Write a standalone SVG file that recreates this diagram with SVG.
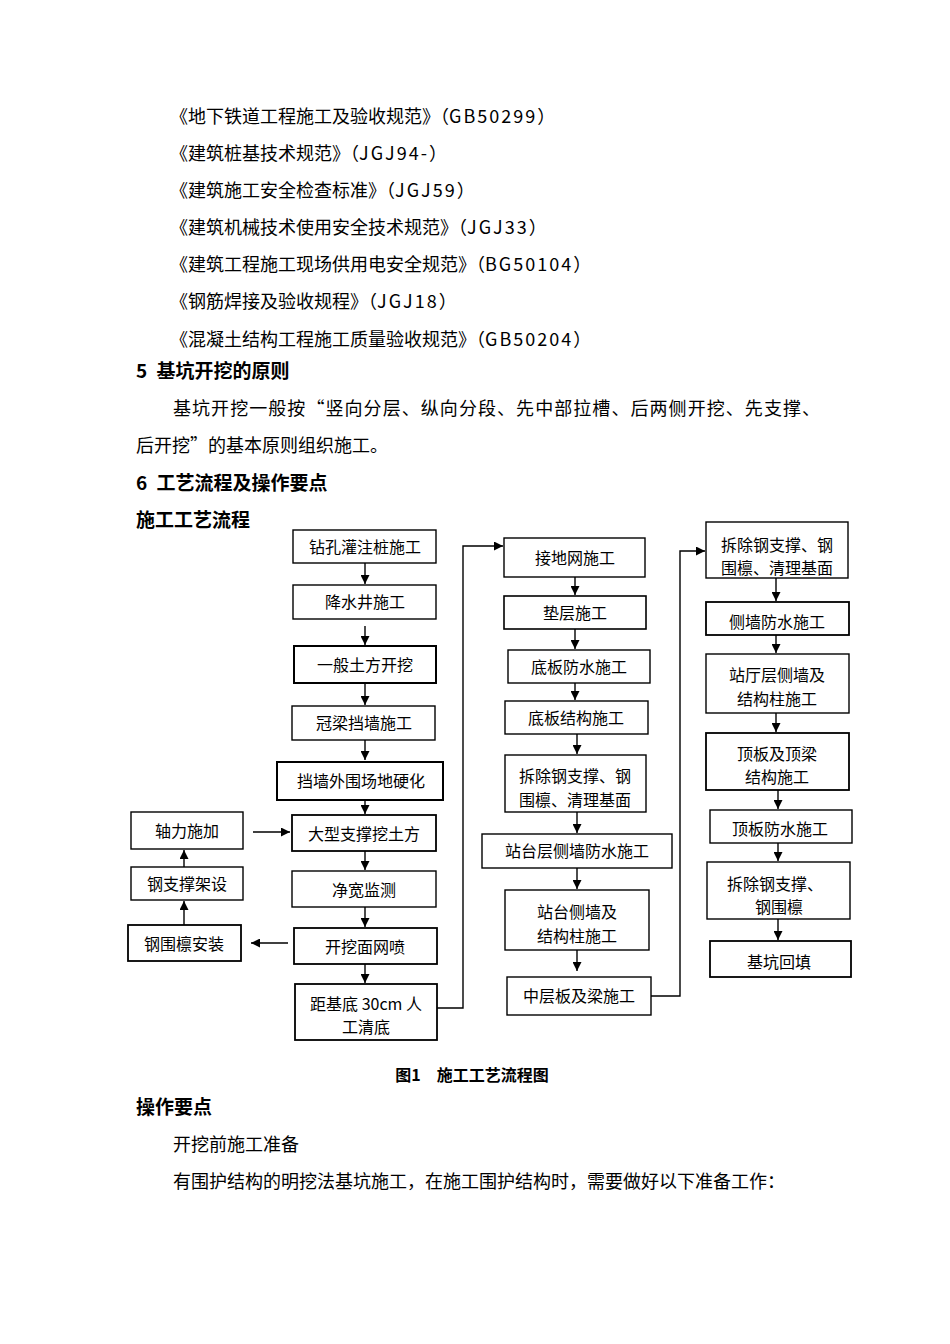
<svg xmlns="http://www.w3.org/2000/svg" width="950" height="1344" viewBox="0 0 950 1344">
<style>
.t{font-family:"Noto Sans CJK SC","Liberation Sans",sans-serif;font-size:18px;fill:#000}
.b{font-family:"Noto Sans CJK SC","Liberation Sans",sans-serif;font-size:19px;font-weight:bold;fill:#000}
.cap{font-family:"Noto Sans CJK SC","Liberation Sans",sans-serif;font-size:16px;font-weight:bold;fill:#000}
.l{letter-spacing:2px}
.n rect{fill:#fff;stroke:#000;stroke-width:1.4}
.n text{font-family:"Noto Sans CJK SC","Liberation Sans",sans-serif;font-size:16px;fill:#000;text-anchor:middle}
.c path,.c line,.c polyline{fill:none;stroke:#000;stroke-width:1.4}
</style>
<defs>
<marker id="ah" viewBox="0 0 10 10" refX="10" refY="5" markerWidth="9" markerHeight="9" markerUnits="userSpaceOnUse" orient="auto">
<path d="M0,0 L10,5 L0,10 z" fill="#000"/>
</marker>
</defs>
<rect width="950" height="1344" fill="#fff"/>

<g id="body-text">
<text class="t" x="170" y="123">《地下铁道工程施工及验收规范》（<tspan class="l">GB50299</tspan>）</text>
<text class="t" x="170" y="160">《建筑桩基技术规范》（<tspan class="l">JGJ94-</tspan>）</text>
<text class="t" x="170" y="197">《建筑施工安全检查标准》（<tspan class="l">JGJ59</tspan>）</text>
<text class="t" x="170" y="234">《建筑机械技术使用安全技术规范》（<tspan class="l">JGJ33</tspan>）</text>
<text class="t" x="170" y="271">《建筑工程施工现场供用电安全规范》（<tspan class="l">BG50104</tspan>）</text>
<text class="t" x="170" y="308">《钢筋焊接及验收规程》（<tspan class="l">JGJ18</tspan>）</text>
<text class="t" x="170" y="346">《混凝土结构工程施工质量验收规范》（<tspan class="l">GB50204</tspan>）</text>
<text class="b" x="136" y="378">5 <tspan dx="5">基坑开挖的原则</tspan></text>
<text class="t" x="173" y="415" textLength="647" lengthAdjust="spacing">基坑开挖一般按“竖向分层、纵向分段、先中部拉槽、后两侧开挖、先支撑、</text>
<text class="t" x="136" y="452">后开挖”的基本原则组织施工。</text>
<text class="b" x="136" y="490">6 <tspan dx="5">工艺流程及操作要点</tspan></text>
<text class="b" x="136" y="527">施工工艺流程</text>
<text class="cap" x="472" y="1081" text-anchor="middle">图1　施工工艺流程图</text>
<text class="b" x="136" y="1114">操作要点</text>
<text class="t" x="173" y="1151">开挖前施工准备</text>
<text class="t" x="173" y="1188">有围护结构的明挖法基坑施工，在施工围护结构时，需要做好以下准备工作：</text>
</g>

<g class="c" id="connectors">
<line x1="365" y1="563" x2="365" y2="584" marker-end="url(#ah)"/>
<line x1="365" y1="626" x2="365" y2="645" marker-end="url(#ah)"/>
<line x1="365" y1="683" x2="365" y2="705" marker-end="url(#ah)"/>
<line x1="365" y1="740" x2="365" y2="760" marker-end="url(#ah)"/>
<line x1="365" y1="800" x2="365" y2="814" marker-end="url(#ah)"/>
<line x1="365" y1="851" x2="365" y2="870" marker-end="url(#ah)"/>
<line x1="365" y1="907" x2="365" y2="927" marker-end="url(#ah)"/>
<line x1="365" y1="964" x2="365" y2="983" marker-end="url(#ah)"/>
<line x1="253" y1="832" x2="290" y2="832" marker-end="url(#ah)"/>
<line x1="288" y1="943" x2="251" y2="943" marker-end="url(#ah)"/>
<line x1="184" y1="925" x2="184" y2="901" marker-end="url(#ah)"/>
<line x1="184" y1="867" x2="184" y2="850" marker-end="url(#ah)"/>
<polyline points="437,1008 463,1008 463,546 503,546" marker-end="url(#ah)"/>
<line x1="575" y1="577" x2="575" y2="595" marker-end="url(#ah)"/>
<line x1="575" y1="629" x2="575" y2="649" marker-end="url(#ah)"/>
<line x1="575" y1="683" x2="575" y2="700" marker-end="url(#ah)"/>
<line x1="577" y1="734" x2="577" y2="754" marker-end="url(#ah)"/>
<line x1="577" y1="812" x2="577" y2="833" marker-end="url(#ah)"/>
<line x1="577" y1="868" x2="577" y2="889" marker-end="url(#ah)"/>
<line x1="577" y1="950" x2="577" y2="971" marker-end="url(#ah)"/>
<polyline points="651,996 680,996 680,551 705,551" marker-end="url(#ah)"/>
<line x1="776" y1="578" x2="776" y2="601" marker-end="url(#ah)"/>
<line x1="776" y1="635" x2="776" y2="653" marker-end="url(#ah)"/>
<line x1="776" y1="713" x2="776" y2="732" marker-end="url(#ah)"/>
<line x1="778" y1="790" x2="778" y2="809" marker-end="url(#ah)"/>
<line x1="778" y1="843" x2="778" y2="861" marker-end="url(#ah)"/>
<line x1="778" y1="919" x2="778" y2="940" marker-end="url(#ah)"/>
</g>

<g class="n" id="n1"><rect x="293" y="530" width="143" height="33"/><text x="365" y="553">钻孔灌注桩施工</text></g>
<g class="n" id="n2"><rect x="293" y="585" width="143" height="34"/><text x="365" y="608">降水井施工</text></g>
<g class="n" id="n3"><rect x="294" y="646" width="142" height="37" style="stroke-width:2"/><text x="365" y="671">一般土方开挖</text></g>
<g class="n" id="n4"><rect x="292" y="706" width="143" height="34"/><text x="364" y="729">冠梁挡墙施工</text></g>
<g class="n" id="n5"><rect x="277" y="762" width="166" height="38" style="stroke-width:2"/><text x="361" y="787">挡墙外围场地硬化</text></g>
<g class="n" id="n6"><rect x="292" y="815" width="144" height="36" style="stroke-width:1.8"/><text x="364" y="840">大型支撑挖土方</text></g>
<g class="n" id="n7"><rect x="292" y="871" width="144" height="36"/><text x="364" y="896">净宽监测</text></g>
<g class="n" id="n8"><rect x="294" y="928" width="143" height="36" style="stroke-width:1.8"/><text x="365" y="953">开挖面网喷</text></g>
<g class="n" id="n9"><rect x="295" y="984" width="142" height="56" style="stroke-width:1.8"/><text x="366" y="1010">距基底 30cm 人</text><text x="366" y="1033">工清底</text></g>

<g class="n" id="l1"><rect x="131" y="812" width="112" height="37"/><text x="187" y="837">轴力施加</text></g>
<g class="n" id="l2"><rect x="131" y="867" width="112" height="33"/><text x="187" y="890">钢支撑架设</text></g>
<g class="n" id="l3"><rect x="128" y="925" width="113" height="36" style="stroke-width:1.8"/><text x="184" y="950">钢围檩安装</text></g>

<g class="n" id="m1"><rect x="504" y="538" width="141" height="39"/><text x="575" y="564">接地网施工</text></g>
<g class="n" id="m2"><rect x="504" y="596" width="142" height="33" style="stroke-width:1.6"/><text x="575" y="619">垫层施工</text></g>
<g class="n" id="m3"><rect x="508" y="650" width="142" height="33"/><text x="579" y="673">底板防水施工</text></g>
<g class="n" id="m4"><rect x="505" y="701" width="143" height="33"/><text x="576" y="724">底板结构施工</text></g>
<g class="n" id="m5"><rect x="505" y="755" width="141" height="57"/><text x="575" y="782">拆除钢支撑、钢</text><text x="575" y="806">围檩、清理基面</text></g>
<g class="n" id="m6"><rect x="482" y="834" width="190" height="34"/><text x="577" y="857">站台层侧墙防水施工</text></g>
<g class="n" id="m7"><rect x="505" y="890" width="144" height="60"/><text x="577" y="918">站台侧墙及</text><text x="577" y="942">结构柱施工</text></g>
<g class="n" id="m8"><rect x="507" y="977" width="144" height="38"/><text x="579" y="1002">中层板及梁施工</text></g>

<g class="n" id="r1"><rect x="706" y="522" width="142" height="56"/><text x="777" y="551">拆除钢支撑、钢</text><text x="777" y="574">围檩、清理基面</text></g>
<g class="n" id="r2"><rect x="706" y="602" width="143" height="33" style="stroke-width:1.8"/><text x="777" y="628">侧墙防水施工</text></g>
<g class="n" id="r3"><rect x="706" y="654" width="143" height="59"/><text x="777" y="681">站厅层侧墙及</text><text x="777" y="705">结构柱施工</text></g>
<g class="n" id="r4"><rect x="706" y="733" width="143" height="57" style="stroke-width:1.8"/><text x="777" y="760">顶板及顶梁</text><text x="777" y="783">结构施工</text></g>
<g class="n" id="r5"><rect x="710" y="810" width="142" height="33"/><text x="780" y="835">顶板防水施工</text></g>
<g class="n" id="r6"><rect x="707" y="862" width="143" height="57"/><text x="775" y="890">拆除钢支撑、</text><text x="779" y="913">钢围檩</text></g>
<g class="n" id="r7"><rect x="710" y="941" width="141" height="36" style="stroke-width:1.8"/><text x="779" y="968">基坑回填</text></g>
</svg>
